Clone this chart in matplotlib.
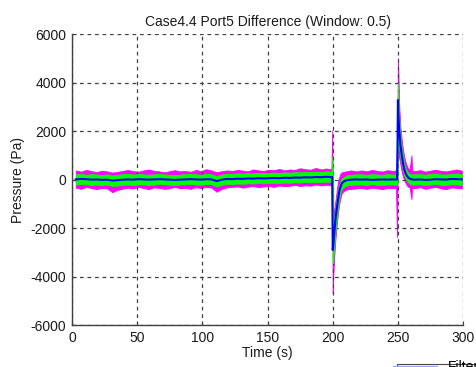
import numpy as np
import matplotlib
matplotlib.use('Agg')
import matplotlib.pyplot as plt

plt.rcParams['font.family'] = ['Liberation Sans', 'DejaVu Sans']
plt.rcParams['font.size'] = 10
plt.rcParams['axes.unicode_minus'] = False

# time samples (s)
t = [3, 7, 11, 15, 19, 23, 27, 31, 35, 39, 43, 47, 51, 55, 59, 63, 67, 71, 75, 79,
     83, 87, 91, 95, 99, 103, 107, 111, 115, 119, 123, 127, 131, 135, 139, 143, 147,
     151, 155, 159, 163, 167, 171, 175, 179, 183, 187, 191, 195,
     198, 199, 199.6, 200, 200.4, 201, 202, 203, 204, 205, 206, 207, 209, 211, 214, 218,
     222, 226, 230, 234, 238, 242,
     246, 248.5, 249.3, 249.7, 250, 250.4, 251, 252, 253, 254, 255, 256, 257, 258, 259,
     260.4, 260.8, 261.2, 263,
     267, 271, 275, 279, 283, 287, 291, 295, 299]

# filtered trace (Pa)
filtered = [10, 30, 20, 0, 10, -10, 0, -40, -20, 0, 10, 0, 20, 10, 0, 10, 20, 10, 0, -10,
            0, 10, 20, 10, 0, 20, 10, -60, 0, 30, 20, 40, 30, 50, 40, 60, 50,
            60, 70, 60, 80, 70, 90, 80, 100, 90, 110, 100, 120,
            110, 100, 110, -2900, -2700, -2300, -1700, -1250, -850, -500, -300, -150, -60, -20, 0, 10,
            0, 10, -10, 0, 10, 0,
            10, 0, 20, 1500, 3280, 2600, 2000, 1400, 1000, 650, 400, 250, 150, 80, 40,
            20, 10, 0, 0,
            10, -10, 0, 20, 10, 0, 30, 20, 10]

# raw signal envelope (magenta)
raw_hi = [380, 330, 400, 350, 310, 370, 340, 290, 320, 360, 400, 350, 330, 380, 420, 360, 340, 300, 350, 390,
          340, 360, 320, 400, 350, 430, 380, 300, 350, 380, 360, 400, 370, 340, 420, 380, 360,
          410, 390, 440, 380, 420, 400, 470, 430, 410, 480, 420, 460,
          430, 450, 2040, 400, -1200, -1300, -900, -500, -100, 100, 250, 300, 330, 350, 380, 340,
          380, 340, 400, 360, 330, 390,
          360, 380, 400, 3000, 5000, 4200, 3000, 2100, 1600, 1200, 900, 700, 550, 450, 420,
          1000, 400, 380, 350,
          390, 330, 370, 410, 360, 340, 380, 420, 370]
raw_lo = [-330, -380, -300, -350, -390, -340, -360, -520, -420, -370, -330, -360, -300, -350, -390, -320, -340, -380, -350, -300,
          -360, -340, -380, -310, -350, -300, -330, -500, -380, -320, -300, -280, -330, -290, -260, -310, -280,
          -260, -300, -240, -270, -250, -220, -260, -230, -250, -200, -240, -210,
          -230, -250, -300, -4680, -4000, -3300, -2500, -1900, -1400, -1000, -750, -550, -450, -400, -380, -360,
          -340, -380, -330, -360, -390, -340,
          -350, -340, -2370, -300, 1200, 1000, 900, 600, 300, 100, -50, -150, -250, -300, -330,
          -800, -330, -340, -350,
          -310, -380, -330, -300, -360, -390, -320, -340, -360]

# smoothed signal envelope (green)
smooth_hi = [220, 240, 200, 230, 210, 190, 220, 170, 200, 230, 240, 210, 230, 220, 200, 220, 240, 210, 200, 190,
             210, 230, 240, 220, 200, 240, 220, 150, 210, 250, 240, 260, 250, 270, 260, 280, 270,
             280, 290, 280, 300, 290, 310, 300, 320, 310, 330, 320, 340,
             330, 320, 930, 300, -1800, -1700, -1200, -800, -450, -250, -50, 50, 120, 180, 200, 220,
             220, 200, 230, 210, 200, 230,
             210, 220, 230, 2500, 3970, 3300, 2500, 1800, 1300, 950, 650, 450, 350, 280, 240,
             230, 220, 210, 220,
             230, 200, 240, 250, 220, 210, 240, 250, 230]
smooth_lo = [-200, -180, -190, -220, -200, -230, -200, -260, -240, -210, -200, -220, -190, -200, -220, -200, -180, -190, -210, -220,
             -200, -190, -180, -200, -210, -180, -190, -280, -210, -170, -180, -160, -170, -150, -160, -140, -150,
             -140, -130, -140, -120, -130, -110, -120, -100, -110, -90, -100, -80,
             -90, -100, -150, -3440, -3300, -2900, -2200, -1700, -1200, -800, -550, -380, -280, -230, -210, -200,
             -200, -220, -190, -210, -220, -200,
             -200, -210, -200, -100, 1800, 1500, 1300, 900, 600, 350, 150, 50, -50, -120, -170,
             -190, -200, -210, -200,
             -190, -220, -200, -180, -210, -220, -190, -200, -210]

x_ticks = [0, 50, 100, 150, 200, 250, 300]
y_ticks = [-6000, -4000, -2000, 0, 2000, 4000, 6000]

fig = plt.figure(figsize=(4.76, 3.67), dpi=100)
ax = fig.add_axes([0.151, 0.114, 0.822, 0.793])

t = np.array(t)
ax.fill_between(t, raw_lo, raw_hi, color='#ff00ff', lw=0.6, zorder=2)
ax.fill_between(t, smooth_lo, smooth_hi, color='#00ff00', lw=0.6, zorder=3)
ln, = ax.plot(t, filtered, color='#0000ff', lw=1.5, zorder=4)

ax.set_xlim(0, 300)
ax.set_ylim(-6000, 6000)
ax.set_xticks(x_ticks)
ax.set_yticks(y_ticks)
ax.grid(True, color='#404040', linestyle=(0, (3, 3)), linewidth=0.9)
ax.set_axisbelow(False)
for s in ['top', 'right']:
    ax.spines[s].set_visible(False)
for s in ['left', 'bottom']:
    ax.spines[s].set_color('#404040')
    ax.spines[s].set_linewidth(1.0)
ax.tick_params(direction='in', length=3, color='#404040', labelcolor='#1a1a1a', pad=4)

ax.set_title('Case4.4 Port5 Difference (Window: 0.5)', fontsize=10, pad=6, color='#1a1a1a')
ax.set_xlabel('Time (s)', fontsize=10, labelpad=1, color='#1a1a1a')
ax.set_ylabel('Pressure (Pa)', fontsize=10, labelpad=4, color='#1a1a1a')

# legend sits mostly below the visible canvas, as in the original
leg = fig.legend([ln], ['Filtered'], loc='upper left', bbox_to_anchor=(0.834, 0.008),
                 frameon=True, fancybox=False, edgecolor='#1a1a1a', borderpad=-0.3,
                 handlelength=3.2, fontsize=10, borderaxespad=0)
leg.get_frame().set_linewidth(0.8)
leg.get_lines()[0].set_color('#a0a0ff')
leg.get_lines()[0].set_linewidth(1.0)

fig.savefig('out.png', dpi=100, facecolor='white')
